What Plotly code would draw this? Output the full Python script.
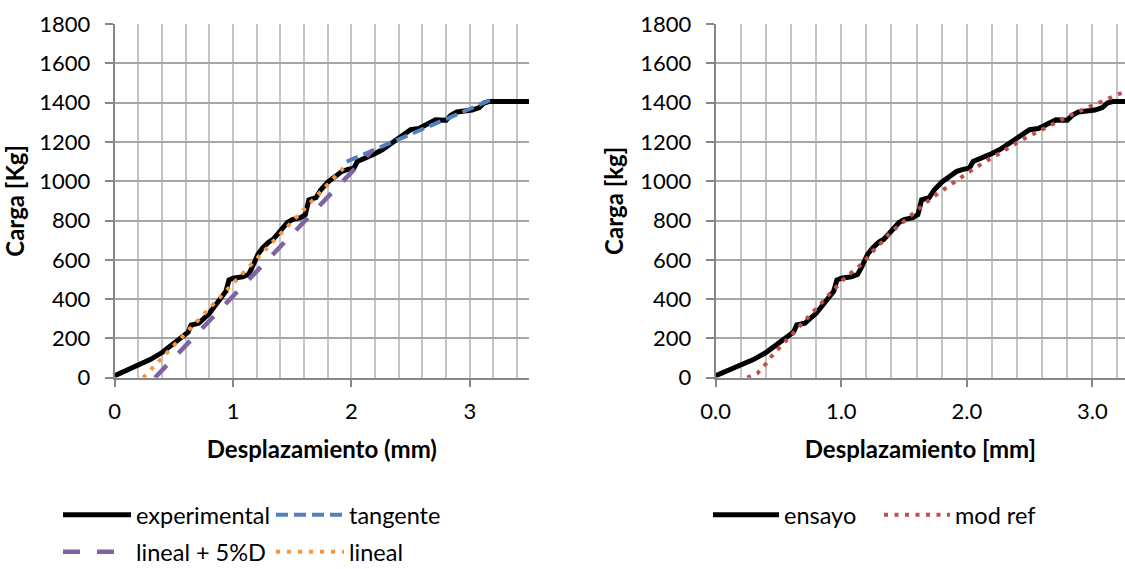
import plotly.graph_objects as go

# ---------------- data ----------------
# experimental / ensayo curve (displacement mm, load kg)
exp_x = [0.00, 0.10, 0.20, 0.30, 0.40, 0.50, 0.60, 0.62, 0.645, 0.71, 0.80, 0.88, 0.94, 0.965, 1.00,
         1.08, 1.13, 1.16, 1.21, 1.25, 1.30, 1.34, 1.40, 1.46, 1.50, 1.57, 1.61, 1.64, 1.70, 1.74,
         1.80, 1.86, 1.92, 1.97, 2.02, 2.05, 2.10, 2.18, 2.26, 2.33, 2.38, 2.45, 2.50, 2.57, 2.62,
         2.67, 2.71, 2.80, 2.84, 2.89, 2.95, 3.02, 3.08, 3.12, 3.16, 3.50]
exp_y = [10, 37, 64, 92, 128, 175, 215, 232, 268, 277, 328, 392, 440, 497, 506,
         514, 525, 560, 628, 660, 690, 705, 750, 790, 805, 814, 830, 905, 916, 955,
         995, 1025, 1050, 1060, 1066, 1100, 1112, 1135, 1160, 1192, 1210, 1240, 1262, 1268, 1285,
         1305, 1312, 1310, 1335, 1352, 1355, 1362, 1375, 1398, 1405, 1405]

# tangente
tan_x = [1.96, 3.17]
tan_y = [1100, 1412]

# lineal + 5%D
l5_x = [0.34, 2.18]
l5_y = [0, 1159]

# lineal
lin_x = [0.24, 1.97]
lin_y = [0, 1091]

# mod ref (right chart)
mod_x = [0.251, 0.331, 0.386, 0.437, 0.495, 0.553, 0.616, 0.675, 0.730, 0.788, 0.847, 0.905,
         0.963, 1.024, 1.087, 1.153, 1.214, 1.270, 1.328, 1.389, 1.455, 1.521, 1.585, 1.648,
         1.717, 1.786, 1.857, 1.929, 1.997, 2.069, 2.140, 2.214, 2.286, 2.362, 2.439, 2.513,
         2.590, 2.669, 2.743, 2.820, 2.899, 2.976, 3.058, 3.138, 3.214, 3.26]
mod_y = [0, 22, 59, 103, 144, 183, 222, 263, 304, 343, 383, 424,
         463, 504, 538, 573, 613, 657, 692, 738, 772, 808, 845, 879,
         913, 945, 977, 1008, 1038, 1069, 1096, 1125, 1154, 1183, 1210, 1235,
         1261, 1288, 1312, 1334, 1357, 1379, 1403, 1422, 1444, 1453]

y_ticks = [0, 200, 400, 600, 800, 1000, 1200, 1400, 1600, 1800]

# ---------------- style ----------------
FONT = "Lato"
W, H = 1125, 569
AX = "#868686"
GRID_H = "#A6A6A6"
GRID_V = "#C4C4C4"

fig = go.Figure()

fig.add_trace(go.Scatter(x=exp_x, y=exp_y, mode="lines", name="experimental",
                         line=dict(color="black", width=5), xaxis="x", yaxis="y",
                         legend="legend"))
fig.add_trace(go.Scatter(x=tan_x, y=tan_y, mode="lines", name="tangente",
                         line=dict(color="#4F81BD", width=4, dash="12px,6px"),
                         xaxis="x", yaxis="y", legend="legend"))
fig.add_trace(go.Scatter(x=l5_x, y=l5_y, mode="lines", name="lineal + 5%D",
                         line=dict(color="#8064A2", width=4.5, dash="17px,17px"),
                         xaxis="x", yaxis="y", legend="legend3"))
fig.add_trace(go.Scatter(x=lin_x, y=lin_y, mode="lines", name="lineal",
                         line=dict(color="#F79646", width=4, dash="4px,7px"),
                         xaxis="x", yaxis="y", legend="legend3"))

fig.add_trace(go.Scatter(x=exp_x, y=exp_y, mode="lines", name="ensayo",
                         line=dict(color="black", width=5), xaxis="x2", yaxis="y2",
                         legend="legend2"))
fig.add_trace(go.Scatter(x=mod_x, y=mod_y, mode="lines", name="mod ref",
                         line=dict(color="#C0504D", width=4, dash="4px,6.5px"),
                         xaxis="x2", yaxis="y2", legend="legend2"))

tick_font = dict(family=FONT, size=22, color="black")
title_font = dict(family=FONT, size=24, color="black", weight="bold")

ydom = [1 - 377.7 / H, 1 - 24 / H]


def xaxis_cfg(dom, rng, fmt, title):
    return dict(domain=dom, range=rng, tick0=0, dtick=1, tickformat=fmt,
                ticks="outside", ticklen=7, tickwidth=2, tickcolor=AX,
                showline=True, linecolor=AX, linewidth=2, zeroline=False,
                showgrid=True, gridcolor=GRID_V, gridwidth=2,
                minor=dict(dtick=0.2, tick0=0, showgrid=True, gridcolor=GRID_V,
                           gridwidth=2, ticks=""),
                tickfont=tick_font, ticklabelstandoff=6,
                title=dict(text=title, font=title_font, standoff=18),
                automargin=False, fixedrange=True)


def yaxis_cfg(anchor, title):
    return dict(domain=ydom, range=[0, 1800], tickvals=y_ticks,
                ticks="outside", ticklen=8, tickwidth=2, tickcolor=AX,
                showline=True, linecolor=AX, linewidth=2, zeroline=False,
                showgrid=True, gridcolor=GRID_H, gridwidth=2,
                tickfont=tick_font, ticklabelstandoff=10, anchor=anchor,
                title=dict(text=title, font=title_font, standoff=10),
                automargin=False, fixedrange=True)


leg_font = dict(family=FONT, size=23.5, color="black")

fig.update_layout(
    width=W, height=H, autosize=False,
    margin=dict(l=0, r=0, t=0, b=0, autoexpand=False),
    paper_bgcolor="white", plot_bgcolor="white",
    xaxis=xaxis_cfg([114.7 / W, 529 / W], [0, 3.5], "d", "Desplazamiento (mm)"),
    yaxis=yaxis_cfg("x", "Carga [Kg]"),
    xaxis2=xaxis_cfg([715.7 / W, 1.0], [0, 3.26], ".1f", "Desplazamiento [mm]"),
    yaxis2=yaxis_cfg("x2", "Carga [kg]"),
    legend=dict(orientation="h", x=58 / W, y=1 - 515 / H, xanchor="left", yanchor="middle",
                font=leg_font, itemwidth=68, entrywidth=130, bgcolor="rgba(0,0,0,0)",
                traceorder="normal"),
    legend3=dict(orientation="h", x=58 / W, y=1 - 552 / H, xanchor="left", yanchor="middle",
                 font=leg_font, itemwidth=68, entrywidth=130, bgcolor="rgba(0,0,0,0)",
                 traceorder="normal"),
    legend2=dict(orientation="h", x=708 / W, y=1 - 515 / H, xanchor="left", yanchor="middle",
                 font=leg_font, itemwidth=66, entrywidth=90, bgcolor="rgba(0,0,0,0)",
                 traceorder="normal"),
    showlegend=True,
)

fig.write_html("out.html")
